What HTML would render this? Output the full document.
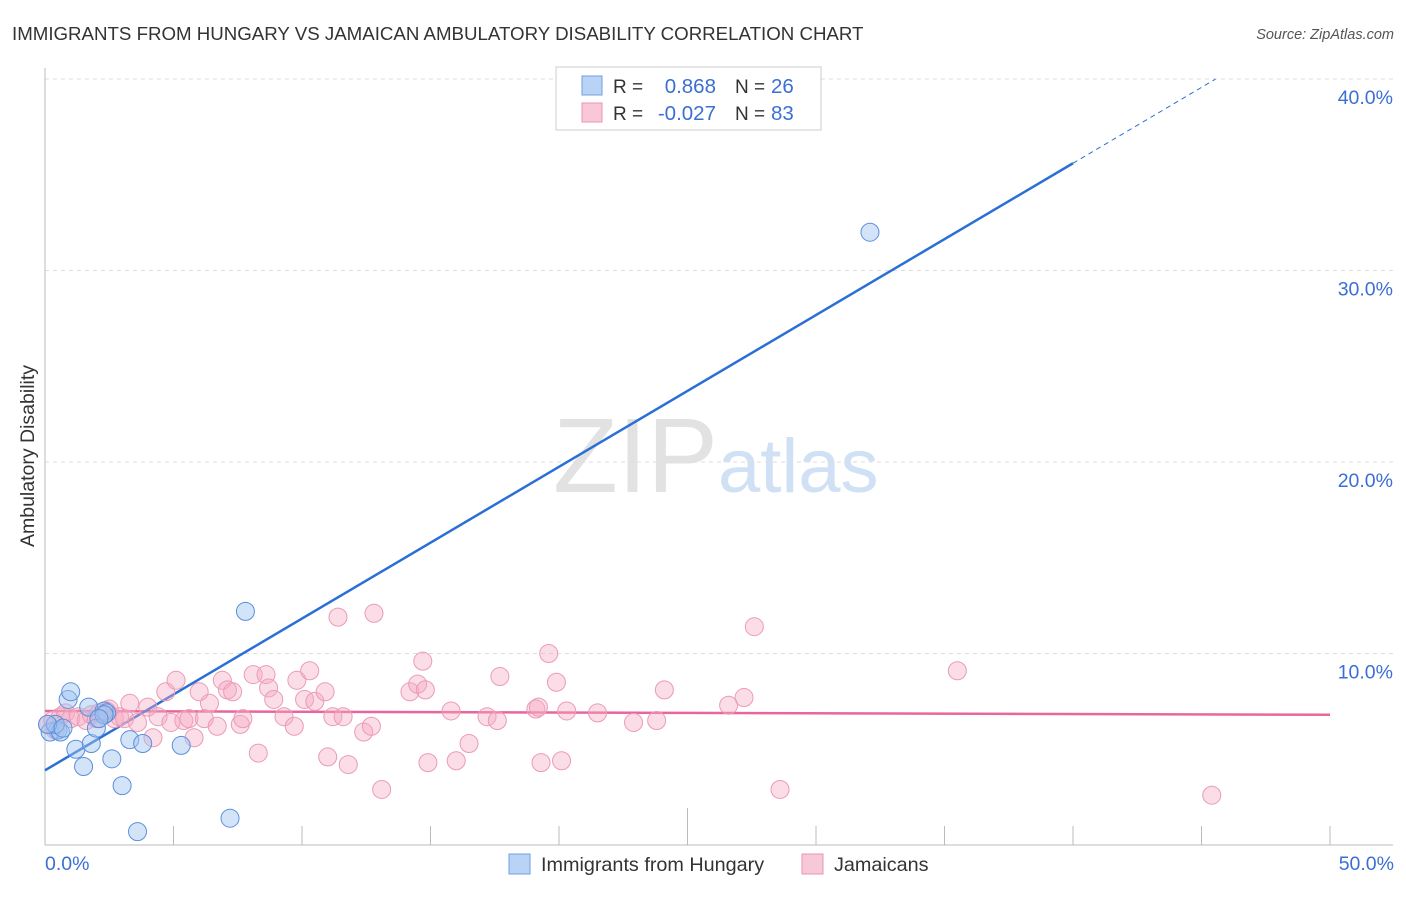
<!DOCTYPE html>
<html><head><meta charset="utf-8"><style>
body{margin:0;background:#fff;font-family:"Liberation Sans",sans-serif;}
svg text{font-family:"Liberation Sans",sans-serif;}
</style></head><body>
<svg width="1406" height="892" viewBox="0 0 1406 892">
<text x="12" y="40" font-size="18.7" fill="#333">IMMIGRANTS FROM HUNGARY VS JAMAICAN AMBULATORY DISABILITY CORRELATION CHART</text>
<text x="1394" y="39" font-size="14.5" fill="#555" font-style="italic" text-anchor="end">Source: ZipAtlas.com</text>
<g>
<text x="553" y="492" font-size="106" fill="#e2e2e2" font-family="Liberation Serif, serif">ZIP</text>
<text x="718" y="492" font-size="76" fill="#d0e0f5">atlas</text>
</g>
<g id="grid"></g>
<g id="axes"></g>
<g id="trend"></g>
<g id="pts"></g>
<text transform="translate(34,456) rotate(-90)" font-size="19.5" fill="#333" text-anchor="middle">Ambulatory Disability</text>
<text x="45" y="870" font-size="19.5" fill="#3b6fd4">0.0%</text>
<text x="1394" y="870" font-size="19.5" fill="#3b6fd4" text-anchor="end">50.0%</text>
<g>
<rect x="556" y="67" width="265" height="63" fill="#fff" stroke="#ccc"/>
<rect x="582" y="76" width="20" height="19" fill="#b8d3f5" stroke="#6f9fe0"/>
<rect x="582" y="103" width="20" height="19" fill="#f9c8d8" stroke="#e896b2"/>
<text x="613" y="93" font-size="19" fill="#333">R =</text>
<text x="716" y="93" font-size="20.5" fill="#3b6fd4" text-anchor="end">0.868</text>
<text x="735" y="93" font-size="19" fill="#333">N =</text>
<text x="771" y="93" font-size="20.5" fill="#3b6fd4">26</text>
<text x="613" y="120" font-size="19" fill="#333">R =</text>
<text x="716" y="120" font-size="20.5" fill="#3b6fd4" text-anchor="end">-0.027</text>
<text x="735" y="120" font-size="19" fill="#333">N =</text>
<text x="771" y="120" font-size="20.5" fill="#3b6fd4">83</text>
</g>
<g>
<rect x="509" y="854" width="21" height="20" fill="#b8d3f5" stroke="#6f9fe0"/>
<text x="541" y="871" font-size="19.8" fill="#333">Immigrants from Hungary</text>
<rect x="802" y="854" width="21" height="20" fill="#f9c8d8" stroke="#e896b2"/>
<text x="834" y="871" font-size="19.8" fill="#333">Jamaicans</text>
</g>
</svg>
<script>
const yTicks=[10,20,30,40];
const yTickLabels=["10.0%","20.0%","30.0%","40.0%"];
const xTicks=[0,5,10,15,20,25,30,35,40,45,50];
const hungaryX=[0.5,0.2,0.6,0.9,1.0,1.2,1.5,1.7,1.8,2.0,2.3,2.4,2.6,3.0,3.3,3.6,3.8,5.3,7.2,7.8,32.1,0.4,2.3,0.1,0.7,2.1];
const hungaryY=[6.0,5.9,5.9,7.6,8.0,5.0,4.1,7.2,5.3,6.1,7.0,6.9,4.5,3.1,5.5,0.7,5.3,5.2,1.4,12.2,32.0,6.3,6.8,6.3,6.1,6.6];
const jamX=[0.1,0.3,0.4,0.6,0.8,1.0,1.3,1.6,1.8,2.0,2.1,2.4,2.5,2.7,2.9,3.1,3.3,3.6,4.0,4.2,4.4,4.7,4.9,5.1,5.4,5.6,5.8,6.0,6.2,6.4,6.7,6.9,7.1,7.3,7.6,7.7,8.1,8.3,8.6,8.7,8.9,9.3,9.7,9.8,10.1,10.3,10.5,10.9,11.0,11.2,11.4,11.6,11.8,12.4,12.7,12.8,13.1,14.2,14.5,14.7,14.8,14.9,15.8,16.0,16.5,17.2,17.6,17.7,19.1,19.2,19.3,19.6,19.9,20.1,20.3,21.5,22.9,23.8,24.1,26.6,27.2,27.6,28.6,35.5,45.4];
const jamY=[6.3,6.5,6.0,6.7,6.9,6.6,6.7,6.5,6.8,6.6,6.9,7.0,7.1,6.6,6.7,6.6,7.4,6.4,7.2,5.6,6.7,8.0,6.4,8.6,6.5,6.6,5.6,8.0,6.6,7.4,6.2,8.6,8.1,8.0,6.3,6.6,8.9,4.8,8.9,8.2,7.6,6.7,6.2,8.6,7.6,9.1,7.5,8.0,4.6,6.7,11.9,6.7,4.2,5.9,6.2,12.1,2.9,8.0,8.4,9.6,8.1,4.3,7.0,4.4,5.3,6.7,6.5,8.8,7.1,7.2,4.3,10.0,8.5,4.4,7.0,6.9,6.4,6.5,8.1,7.3,7.7,11.4,2.9,9.1,2.6];
const hungaryTrend=[0,3.9,40,35.6];
const jamTrend=[0,7.0,50,6.8];
const NS="http://www.w3.org/2000/svg";
const X0=45,X1=1330,Y0=845,PXY=19.15;
const sx=v=>X0+(X1-X0)*v/50, sy=v=>Y0-v*PXY;
function mk(t,a,p){const e=document.createElementNS(NS,t);for(const k in a)e.setAttribute(k,a[k]);p.appendChild(e);return e;}
const grid=document.getElementById('grid'),axes=document.getElementById('axes'),trend=document.getElementById('trend'),pts=document.getElementById('pts');
yTicks.forEach((t,i)=>{
 const l=mk('line',{x1:X0,x2:1393,y1:sy(t),y2:sy(t),stroke:'#ddd','stroke-dasharray':'4,4'},grid);
 
 
 const tx=mk('text',{x:1393,y:sy(t)+25,'font-size':19.5,fill:'#3b6fd4','text-anchor':'end'},grid);
 tx.textContent=yTickLabels[i];
 
 
});
const ya=mk('line',{x1:X0,x2:X0,y1:68,y2:Y0,stroke:'#bbb'},axes);


const xa=mk('line',{x1:X0,x2:1393,y1:Y0,y2:Y0,stroke:'#bbb'},axes);


xTicks.forEach(t=>{
 const tk=mk('line',{x1:sx(t),x2:sx(t),y1:t==25?808:826,y2:Y0,stroke:'#bbb'},axes);
 
 
});
const jt=mk('line',{x1:sx(jamTrend[0]),y1:sy(jamTrend[1]),x2:sx(jamTrend[2]),y2:sy(jamTrend[3]),stroke:'#e8679a','stroke-width':2.5},trend);


const slope=(hungaryTrend[3]-hungaryTrend[1])/(hungaryTrend[2]-hungaryTrend[0]);
const ht=mk('line',{x1:sx(hungaryTrend[0]),y1:sy(hungaryTrend[1]),x2:sx(hungaryTrend[2]),y2:sy(hungaryTrend[3]),stroke:'#2a6fd6','stroke-width':2.5},trend);


const xe=hungaryTrend[2]+(40-hungaryTrend[3])/slope;
const hd=mk('line',{x1:sx(hungaryTrend[2]),y1:sy(hungaryTrend[3]),x2:sx(xe),y2:sy(40),stroke:'#2a6fd6','stroke-width':1,'stroke-dasharray':'5,4'},trend);


jamX.forEach((v,i)=>{
 const c=mk('circle',{cx:sx(v),cy:sy(jamY[i]),r:9,fill:'rgba(246,170,195,0.4)',stroke:'#ec9ab6','stroke-width':1},pts);
 
 
});
hungaryX.forEach((v,i)=>{
 const c=mk('circle',{cx:sx(v),cy:sy(hungaryY[i]),r:9,fill:'rgba(160,196,240,0.45)',stroke:'#5b8fdc','stroke-width':1},pts);
 
 
});
</script>
</body></html>
